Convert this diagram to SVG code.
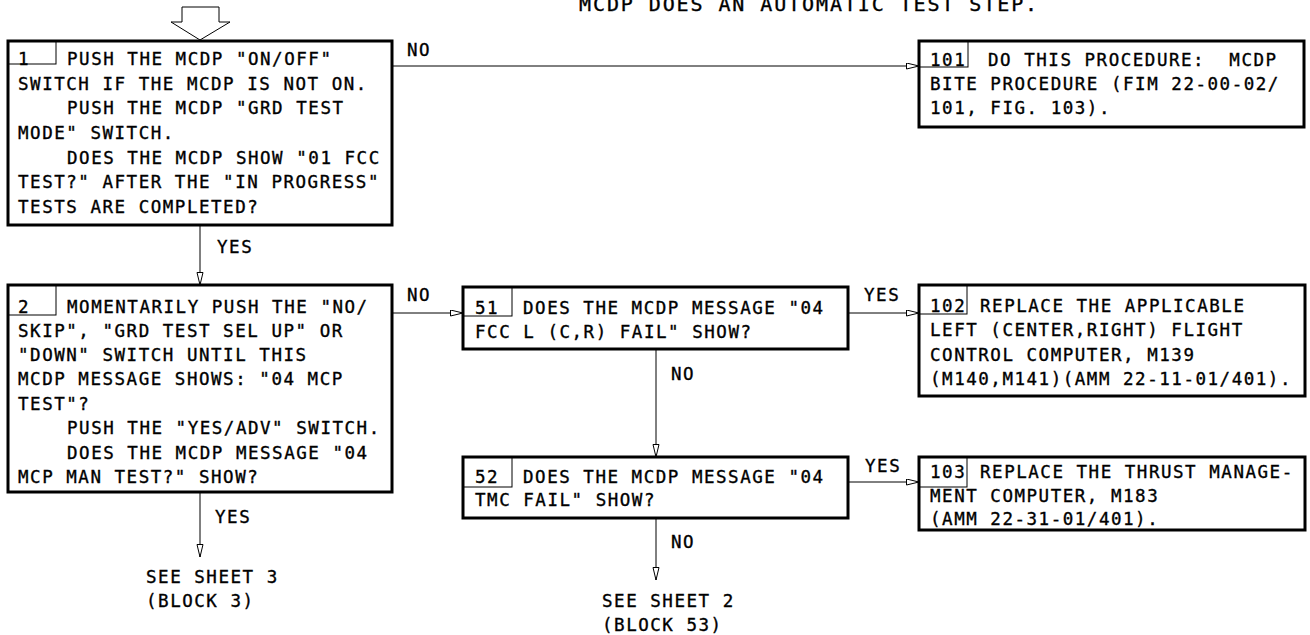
<svg xmlns="http://www.w3.org/2000/svg" width="1310" height="635" viewBox="0 0 1310 635">
<style>
text{font-family:"DejaVu Sans Mono","Liberation Mono",monospace;font-size:17.5px;letter-spacing:1.53px;fill:#000;stroke:#000;stroke-width:0.35px;white-space:pre}
text.title{font-size:20px;letter-spacing:1.9px}
.box{fill:#fff;stroke:#000;stroke-width:3}
.num{fill:none;stroke:#000;stroke-width:1}
.conn{fill:none;stroke:#000;stroke-width:1}
</style>
<defs>
<marker id="ah" markerUnits="userSpaceOnUse" markerWidth="15" markerHeight="8" refX="13" refY="3.5" orient="auto">
<path d="M0.5,0.5 L13,3.5 L0.5,6.5 Z" fill="#fff" stroke="#000" stroke-width="1"/>
</marker>
</defs>
<text class="title" x="579" y="11">MCDP DOES AN AUTOMATIC TEST STEP.</text>
<g id="connectors">
<polygon points="182,7 219,7 219,22 230,22 200,40 171,22 182,22" fill="#fff" stroke="#000" stroke-width="1"/>
<line class="conn" x1="392" y1="66" x2="919" y2="66" marker-end="url(#ah)"/>
<text x="407" y="56">NO</text>
<line class="conn" x1="200" y1="225" x2="200" y2="285" marker-end="url(#ah)"/>
<text x="217" y="253">YES</text>
<line class="conn" x1="392" y1="313" x2="463" y2="313" marker-end="url(#ah)"/>
<text x="407" y="301">NO</text>
<line class="conn" x1="848" y1="313" x2="919" y2="313" marker-end="url(#ah)"/>
<text x="864" y="301">YES</text>
<line class="conn" x1="656" y1="349" x2="656" y2="457" marker-end="url(#ah)"/>
<text x="671" y="380">NO</text>
<line class="conn" x1="848" y1="482" x2="919" y2="482" marker-end="url(#ah)"/>
<text x="865" y="472">YES</text>
<line class="conn" x1="200" y1="492" x2="200" y2="557" marker-end="url(#ah)"/>
<text x="215" y="523">YES</text>
<text x="146" y="583">SEE SHEET 3</text>
<text x="146" y="607">(BLOCK 3)</text>
<line class="conn" x1="656" y1="518" x2="656" y2="580" marker-end="url(#ah)"/>
<text x="671" y="548">NO</text>
<text x="602" y="607">SEE SHEET 2</text>
<text x="602" y="631">(BLOCK 53)</text>
</g>
<g id="node1">
<rect class="box" x="8" y="41" width="384" height="184"/>
<rect class="num" x="8" y="41" width="48" height="23"/>
<text x="18" y="65">1</text>
<text x="67" y="65">PUSH THE MCDP "ON/OFF"</text>
<text x="18" y="90">SWITCH IF THE MCDP IS NOT ON.</text>
<text x="67" y="114">PUSH THE MCDP "GRD TEST</text>
<text x="18" y="139">MODE" SWITCH.</text>
<text x="67" y="164">DOES THE MCDP SHOW "01 FCC</text>
<text x="18" y="188">TEST?" AFTER THE "IN PROGRESS"</text>
<text x="18" y="213">TESTS ARE COMPLETED?</text>
</g>
<g id="node2">
<rect class="box" x="8" y="285" width="384" height="207"/>
<rect class="num" x="8" y="285" width="48" height="30"/>
<text x="18" y="313">2</text>
<text x="67" y="313">MOMENTARILY PUSH THE "NO/</text>
<text x="18" y="337">SKIP", "GRD TEST SEL UP" OR</text>
<text x="18" y="361">"DOWN" SWITCH UNTIL THIS</text>
<text x="18" y="385">MCDP MESSAGE SHOWS: "04 MCP</text>
<text x="18" y="410">TEST"?</text>
<text x="67" y="434">PUSH THE "YES/ADV" SWITCH.</text>
<text x="67" y="459">DOES THE MCDP MESSAGE "04</text>
<text x="18" y="483">MCP MAN TEST?" SHOW?</text>
</g>
<g id="node101">
<rect class="box" x="919" y="41" width="385" height="86"/>
<rect class="num" x="919" y="41" width="49" height="26"/>
<text x="930" y="66">101</text>
<text x="988" y="66">DO THIS PROCEDURE:  MCDP</text>
<text x="930" y="90">BITE PROCEDURE (FIM 22-00-02/</text>
<text x="930" y="114">101, FIG. 103).</text>
</g>
<g id="node51">
<rect class="box" x="463" y="287" width="385" height="62"/>
<rect class="num" x="463" y="287" width="49" height="29"/>
<text x="475" y="314">51</text>
<text x="523" y="314">DOES THE MCDP MESSAGE "04</text>
<text x="475" y="338">FCC L (C,R) FAIL" SHOW?</text>
</g>
<g id="node102">
<rect class="box" x="919" y="285" width="386" height="111"/>
<rect class="num" x="919" y="285" width="48" height="29"/>
<text x="930" y="312">102</text>
<text x="980" y="312">REPLACE THE APPLICABLE</text>
<text x="930" y="336">LEFT (CENTER,RIGHT) FLIGHT</text>
<text x="930" y="361">CONTROL COMPUTER, M139</text>
<text x="930" y="385">(M140,M141)(AMM 22-11-01/401).</text>
</g>
<g id="node52">
<rect class="box" x="463" y="457" width="385" height="61"/>
<rect class="num" x="463" y="457" width="49" height="30"/>
<text x="475" y="483">52</text>
<text x="523" y="483">DOES THE MCDP MESSAGE "04</text>
<text x="475" y="506">TMC FAIL" SHOW?</text>
</g>
<g id="node103">
<rect class="box" x="919" y="457" width="386" height="73"/>
<rect class="num" x="919" y="457" width="48" height="30"/>
<text x="930" y="478">103</text>
<text x="980" y="478">REPLACE THE THRUST MANAGE-</text>
<text x="930" y="502">MENT COMPUTER, M183</text>
<text x="930" y="525">(AMM 22-31-01/401).</text>
</g>
</svg>
